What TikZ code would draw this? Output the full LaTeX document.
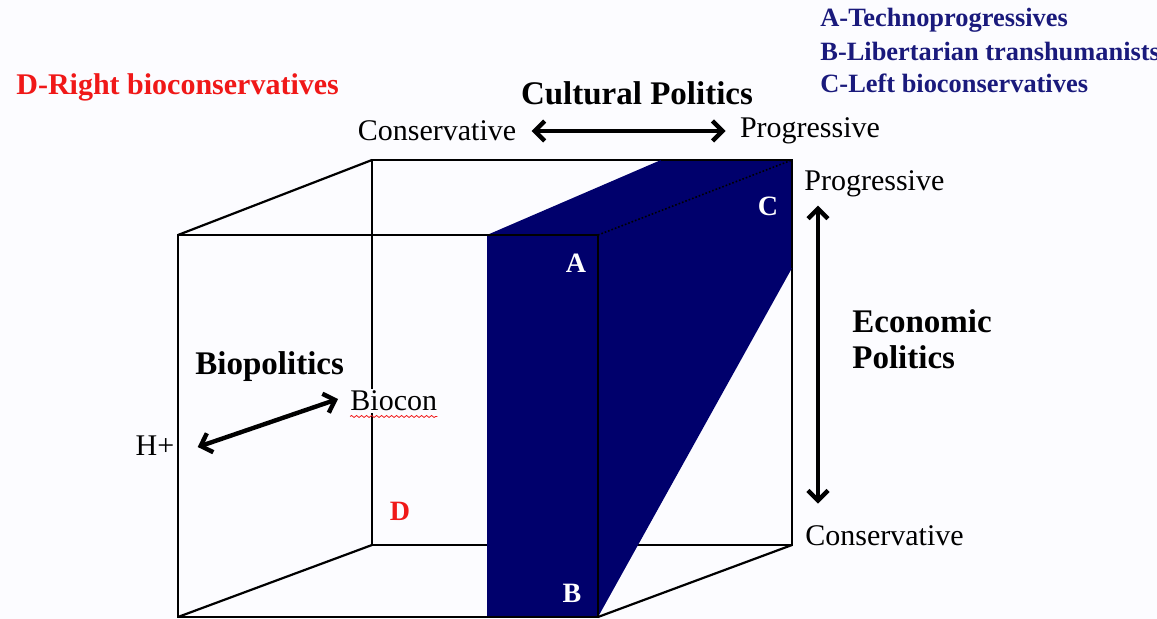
\documentclass[tikz,border=0pt]{standalone}
\usepackage{fontspec}
\setmainfont{Liberation Serif}
\usetikzlibrary{arrows.meta, positioning, calc, decorations.pathmorphing}
\definecolor{navyfill}{RGB}{0,0,108}
\definecolor{legendblue}{RGB}{26,26,124}
\definecolor{labelred}{RGB}{240,24,24}
\definecolor{paper}{RGB}{252,252,255}

\begin{document}
\begin{tikzpicture}[
    x=0.5pt, y=-0.5pt,
    every node/.style={inner sep=1pt},
    edge/.style={line width=1.1pt, black},
    dblarr/.style={{Straight Barb[length=5pt,width=10pt]}-{Straight Barb[length=5pt,width=10pt]}, line width=2.2pt},
    axislbl/.style={font=\fontsize{15}{18}\selectfont},
    heading/.style={font=\fontsize{16.5}{18}\selectfont\bfseries, align=left},
    legend/.style={font=\fontsize{13.2}{16}\selectfont\bfseries, text=legendblue, anchor=west},
    corner/.style={font=\fontsize{14}{16}\selectfont\bfseries, text=white}
  ]

    \useasboundingbox[fill=paper] (0,0) rectangle (1157,619);

    % Cube corners
    \coordinate (fTL) at (178,235);
    \coordinate (fTR) at (598,235);
    \coordinate (fBL) at (178,617);
    \coordinate (fBR) at (598,617);
    \coordinate (bTL) at (372,160);
    \coordinate (bTR) at (792,160);
    \coordinate (bBL) at (372,545);
    \coordinate (bBR) at (792,545);

    % Shaded slab corners
    \coordinate (sA)    at (487,235);
    \coordinate (sA2)   at (487,617);
    \coordinate (sTop)  at (661,160);
    \coordinate (sDiag) at (792,268);

    % Cube edges
    \draw[edge] (fTL) rectangle (fBR);
    \draw[edge] (bTL) rectangle (bBR);
    \draw[edge] (fTL) -- (bTL) (fBL) -- (bBL) (fBR) -- (bBR);

    % Shaded slab
    \fill[navyfill] (sA) -- (sTop) -- (bTR) -- (sDiag) -- (fBR) -- (sA2) -- cycle;
    \draw[edge] (sA) -- (fTR) -- (fBR) -- (sA2);
    \draw[edge] (sTop) -- (bTR) -- (sDiag);
    \draw[black, line width=0.8pt, densely dotted] (fTR) -- (bTR);

    % Corner letters
    \node[corner] (lA) at (576,263) {A};
    \node[corner] (lB) at (572,593) {B};
    \node[corner] (lC) at (768,206) {C};
    \node[corner, text=labelred] (lD) at (400,511) {D};

    % Legend
    \node[legend] (legA) at (818,20) {A-Technoprogressives};
    \node[legend] (legB) at (818,52) {B-Libertarian transhumanists};
    \node[legend] (legC) at (818,83) {C-Left bioconservatives};
    \node[legend, font=\fontsize{15}{18}\selectfont\bfseries, text=labelred] (legD) at (14,87) {D-Right bioconservatives};

    % Cultural axis
    \node[heading] (cult) at (637,93) {Cultural Politics};
    \node[axislbl] (consCult) at (437,131) {Conservative};
    \node[axislbl] (progCult) at (810,131) {Progressive};
    \draw[dblarr] ($(consCult.east)+(13,0)$) -- ($(progCult.west)+(-12,0)$);

    % Economic axis
    \node[axislbl, anchor=west] (progEcon) at (802,184) {Progressive};
    \node[axislbl, anchor=west] (consEcon) at (803,536) {Conservative};
    \node[heading, anchor=west] (econ) at (850,339) {Economic\\Politics};
    \draw[dblarr] ($(progEcon.south west)+(16,6)$) -- ($(consEcon.north west)+(15,-20)$);

    % Bio axis
    \node[heading, anchor=west] (bio) at (193,367) {Biopolitics};
    \node[axislbl] (hplus) at (155,446) {H+};
    \node[axislbl, anchor=west, fill=paper] (biocon) at (348,401) {Biocon};
    \draw[labelred, line width=0.4pt, decorate,
      decoration={snake, amplitude=0.5pt, segment length=2.5pt}]
      ($(biocon.south west)+(2,3)$) -- ($(biocon.south east)+(-2,3)$);
    \draw[dblarr] ($(hplus.east)+(21,1)$) -- ($(biocon.west)+(-10,-2)$);

  \end{tikzpicture}
\end{document}
